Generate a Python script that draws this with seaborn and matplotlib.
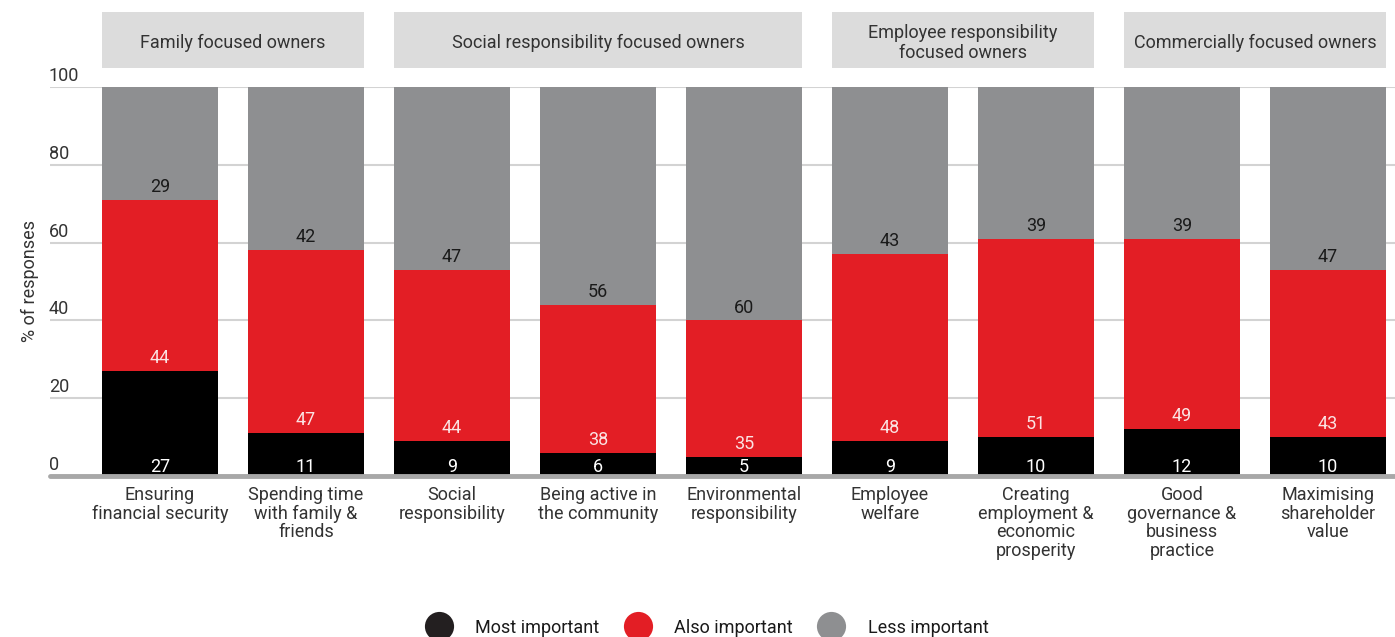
import matplotlib
matplotlib.use("Agg")
import matplotlib.pyplot as plt
from matplotlib.patches import Rectangle
from matplotlib.lines import Line2D
import seaborn as sns
import pandas as pd
import numpy as np

categories = [
    "Ensuring\nfinancial security",
    "Spending time\nwith family &\nfriends",
    "Social\nresponsibility",
    "Being active in\nthe community",
    "Environmental\nresponsibility",
    "Employee\nwelfare",
    "Creating\nemployment &\neconomic\nprosperity",
    "Good\ngovernance &\nbusiness\npractice",
    "Maximising\nshareholder\nvalue",
]
most_important = [27, 11, 9, 6, 5, 9, 10, 12, 10]
also_important = [44, 47, 44, 38, 35, 48, 51, 49, 43]
less_important = [29, 42, 47, 56, 60, 43, 39, 39, 47]

groups = [
    ("Family focused owners", 0, 1),
    ("Social responsibility focused owners", 2, 4),
    ("Employee responsibility\nfocused owners", 5, 6),
    ("Commercially focused owners", 7, 8),
]
series_names = ["Most important", "Also important", "Less important"]
yticks = [0, 20, 40, 60, 80, 100]

BLACK = "#000000"
RED = "#e31e25"
GREY = "#8e8f91"
TEXT = "#333333"
FS = 13

sns.set_theme(style="white")
plt.rcParams["font.family"] = ["Roboto", "DejaVu Sans"]

df = pd.DataFrame({
    "category": categories,
    "most": most_important,
    "also": also_important,
    "less": less_important,
})
df["top_also"] = df["most"] + df["also"]
df["top_less"] = df["top_also"] + df["less"]

fig = plt.figure(figsize=(13.95, 6.37), dpi=100)
ax = fig.add_axes([50 / 1395, (637 - 476) / 637, 1 - 50 / 1395, (476 - 87) / 637])

bar_w = 116 / 146
# stacked bars drawn as cumulative layers, back to front
for col, color in [("top_less", GREY), ("top_also", RED), ("most", BLACK)]:
    sns.barplot(data=df, x="category", y=col, color=color, width=bar_w,
                linewidth=0, saturation=1, ax=ax, order=categories, zorder=2)

ax.set_xlim(-110 / 146, 8 + 67 / 146)
ax.set_ylim(0, 100)
ax.set_xlabel("")
ax.set_ylabel("% of responses", fontsize=FS, color=TEXT)
ax.yaxis.set_label_coords(-0.008, 0.5)
for s in ax.spines.values():
    s.set_visible(False)

ax.set_yticks(yticks)
ax.set_yticklabels([])
ax.tick_params(axis="y", length=0)
ax.yaxis.grid(True, color="#d3d3d3", linewidth=1.5)
ax.set_axisbelow(True)
ytrans = matplotlib.transforms.blended_transform_factory(ax.transAxes, ax.transData)
for v in yticks:
    ax.text(-0.001, v + 0.5, str(v), transform=ytrans, ha="left", va="bottom",
            fontsize=FS, color=TEXT)
ax.axhline(0, color="#a8a8a8", linewidth=3.5, zorder=3, clip_on=False)

ax.set_xticks(range(len(categories)))
ax.set_xticklabels(categories, fontsize=FS, color=TEXT, linespacing=1.03)
ax.tick_params(axis="x", length=0, pad=7.5)

# value labels at the base of each segment
for i in range(len(categories)):
    ax.text(i, 0.0, str(most_important[i]), ha="center", va="bottom",
            fontsize=FS, color="white", zorder=4)
    ax.text(i, most_important[i] + 1.0, str(also_important[i]), ha="center",
            va="bottom", fontsize=FS, color="#fbe3e3", zorder=4)
    ax.text(i, most_important[i] + also_important[i] + 1.0, str(less_important[i]),
            ha="center", va="bottom", fontsize=FS, color="#1a1a1a", zorder=4)

# group header boxes
for name, a, b in groups:
    x0 = a - bar_w / 2
    x1 = b + bar_w / 2
    ax.add_patch(Rectangle((x0, 104.9), x1 - x0, 14.4, facecolor="#dcdcdc",
                           edgecolor="none", clip_on=False, zorder=1))
    ax.text((x0 + x1) / 2, 111.4, name, ha="center", va="center",
            fontsize=FS, color=TEXT, linespacing=1.15)

handles = [Line2D([0], [0], marker="o", linestyle="none", markersize=21,
                  markerfacecolor=c, markeredgecolor="none")
           for c in ["#231f20", RED, GREY]]
fig.legend(handles, series_names, loc="lower center", ncol=3, frameon=False,
           bbox_to_anchor=(0.505, -0.025), fontsize=FS, handletextpad=1.0,
           columnspacing=1.15, labelcolor="#1a1a1a")

fig.savefig("out.png", dpi=100)
